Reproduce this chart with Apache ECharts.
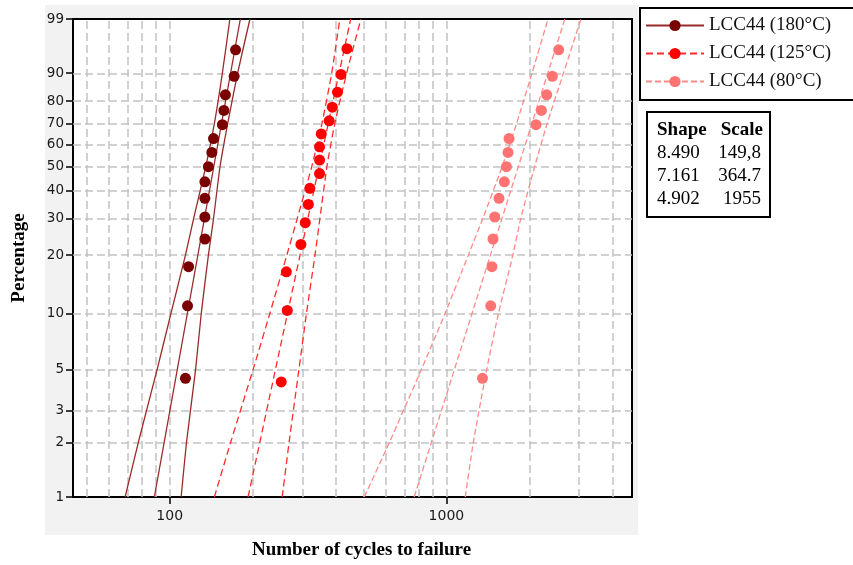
<!DOCTYPE html>
<html lang="en">
<head>
<meta charset="UTF-8">
<title>LCC44 Weibull plot</title>
<script src="https://cdn.jsdelivr.net/npm/echarts@6/dist/echarts.min.js"></script>
<style>
  html, body { margin: 0; padding: 0; background: #fff; }
  #chart { width: 853px; height: 565px; }
</style>
</head>
<body>
<div id="chart"></div>
<script>
// percentage ticks of the Weibull probability axis
var pctTicks = [1, 2, 3, 5, 10, 20, 30, 40, 50, 60, 70, 80, 90, 99];
// vertical grid lines and labels of the cycles axis
var cycleGrid = [50, 60, 70, 80, 90, 100, 200, 300, 400, 500, 600, 700, 800, 900, 1000, 2000, 3000, 4000];
var cycleLabels = [100, 1000];

// plotting positions (%) of the failures
var rank15 = [4.5, 11.0, 17.5, 24.0, 30.5, 37.0, 43.5, 50.0, 56.5, 63.0, 69.5, 76.0, 82.5, 89.0, 95.5];
var rank16 = [4.3, 10.4, 16.5, 22.6, 28.7, 34.8, 40.9, 47.0, 53.0, 59.1, 65.2, 71.3, 77.4, 83.5, 89.6, 95.7];

// cycles to failure
var cycles180 = [114, 116, 117, 134, 134, 134, 134, 138, 142, 144, 155, 157, 159, 171, 173];
var cycles125 = [253, 266, 264, 298, 309, 317, 321, 348, 348, 348, 353, 377, 387, 404, 416, 437];
var cycles80 = [1350, 1446, 1461, 1474, 1495, 1549, 1620, 1648, 1670, 1684, 2108, 2205, 2304, 2416, 2546];

// fitted lines (cycles at 1% and 99%)
var fitPct = [1, 99];
var fit180 = [88, 180];
var fit125 = [192, 451];
var fit80 = [765, 2680];

// confidence bounds
var boundPct = [1, 2, 5, 10, 20, 30, 50, 70, 90, 99];
var low180 = [69, 77, 90, 101, 114, 122, 135, 145, 155, 165];
var high180 = [110, 115, 124, 130, 138, 144, 152, 162, 176, 195];
var low125 = [145, 166, 200, 230, 265, 289, 326, 355, 385, 412];
var high125 = [255, 270, 293, 312, 335, 349, 370, 395, 436, 491];
var low80 = [505, 622, 811, 988, 1200, 1354, 1590, 1793, 2039, 2330];
var high80 = [1170, 1251, 1398, 1542, 1738, 1857, 2084, 2312, 2650, 3065];

var names = ['LCC44 (180°C)', 'LCC44 (125°C)', 'LCC44 (80°C)'];
var shapes = ['8.490', '7.161', '4.902'];
var scales = ['149,8', '364.7', '1955'];

// weibull probability scale
function wb(p) { return Math.log(-Math.log(1 - p / 100)); }
function zip(cs, ps) {
    return cs.map(function (c, i) { return [Math.log10(c), wb(ps[i])]; });
}

function group(name, color, lineColor, dash, pts, ranks, fit, low, high) {
    var ls = { color: lineColor, width: 1.3, type: dash };
    return [
        { name: name, type: 'line', data: zip(fit, fitPct), showSymbol: false, symbol: 'circle',
          itemStyle: { color: color }, lineStyle: ls, z: 3 },
        { name: name, type: 'line', data: zip(low, boundPct), showSymbol: false, smooth: 0.2,
          itemStyle: { color: color }, lineStyle: ls, z: 3 },
        { name: name, type: 'line', data: zip(high, boundPct), showSymbol: false, smooth: 0.2,
          itemStyle: { color: color }, lineStyle: ls, z: 3 },
        { name: name, type: 'scatter', data: zip(pts, ranks), symbolSize: 11,
          itemStyle: { color: color, opacity: 1 }, z: 4 }
    ];
}

var gridLines = cycleGrid.map(function (c) { return { xAxis: Math.log10(c) }; })
    .concat(pctTicks.slice(1, -1).map(function (p) { return { yAxis: wb(p) }; }));

var series = [{
    type: 'line', data: [], silent: true,
    markLine: {
        silent: true, symbol: ['none', 'none'], z: 1, animation: false,
        label: { show: false },
        lineStyle: { color: '#c2c2c2', width: 1.5, type: [8, 4] },
        emphasis: { disabled: true },
        data: gridLines
    }
}].concat(
    group(names[0], '#7a0000', '#9a2a2a', 'solid', cycles180, rank15, fit180, low180, high180),
    group(names[1], '#ff0000', '#ff2a2a', [7, 4], cycles125, rank16, fit125, low125, high125),
    group(names[2], '#ff7373', '#ff8a8a', [6, 3], cycles80, rank15, fit80, low80, high80)
);

var tableText = [
    { type: 'rect', shape: { x: 647, y: 112, width: 123, height: 105 },
      style: { fill: '#fff', stroke: '#000', lineWidth: 2 } },
    { type: 'text', x: 657, y: 130, style: { text: 'Shape', font: 'bold 19px "Liberation Serif"', fill: '#000',
      textAlign: 'left', textVerticalAlign: 'middle', align: 'left', verticalAlign: 'middle' } },
    { type: 'text', x: 763, y: 130, style: { text: 'Scale', font: 'bold 19px "Liberation Serif"', fill: '#000',
      textAlign: 'right', textVerticalAlign: 'middle', align: 'right', verticalAlign: 'middle' } }
];
shapes.forEach(function (s, i) {
    tableText.push({ type: 'text', x: 657, y: 153 + i * 23, style: { text: s, font: '19px "Liberation Serif"',
        fill: '#000', textAlign: 'left', textVerticalAlign: 'middle', align: 'left', verticalAlign: 'middle' } });
    tableText.push({ type: 'text', x: 761, y: 153 + i * 23, style: { text: scales[i], font: '19px "Liberation Serif"',
        fill: '#000', textAlign: 'right', textVerticalAlign: 'middle', align: 'right', verticalAlign: 'middle' } });
});

var chart = echarts.init(document.getElementById('chart'));
chart.setOption({
    animation: false,
    backgroundColor: '#fff',
    graphic: [{ type: 'rect', z: -100, shape: { x: 45, y: 5, width: 593, height: 530 },
                style: { fill: '#f2f2f2' }, silent: true }].concat(tableText),
    grid: { left: 73, top: 19, right: 221, bottom: 66, show: true, backgroundColor: '#fff',
            borderColor: '#000', borderWidth: 2 },
    legend: {
        data: names, orient: 'vertical', left: 640, top: 8,
        itemWidth: 58, itemHeight: 14, itemGap: 9, padding: [8, 23, 9, 5],
        borderColor: '#000', borderWidth: 2, backgroundColor: '#fff',
        lineStyle: { width: 2 },
        textStyle: { fontFamily: 'Liberation Serif', fontSize: 19, color: '#111' }
    },
    xAxis: {
        type: 'value', min: 1.6505, max: 3.6708,
        name: 'Number of cycles to failure', nameLocation: 'middle', nameGap: 44,
        nameTextStyle: { fontFamily: 'Liberation Serif', fontWeight: 'bold', fontSize: 19, color: '#000',
                         padding: [0, 0, 0, 18] },
        axisLine: { onZero: false, lineStyle: { color: '#000', width: 2 } },
        axisTick: { customValues: cycleLabels.map(Math.log10), length: 7, lineStyle: { color: '#000', width: 1.5 } },
        axisLabel: { customValues: cycleLabels.map(Math.log10), margin: 12,
                     fontFamily: 'DejaVu Sans', fontSize: 14, color: '#1a1a1a',
                     formatter: function (v) { return String(Math.round(Math.pow(10, v))); } },
        splitLine: { show: false }
    },
    yAxis: {
        type: 'value', min: wb(1), max: wb(99),
        name: 'Percentage', nameLocation: 'middle', nameRotate: 90, nameGap: 44,
        nameTextStyle: { fontFamily: 'Liberation Serif', fontWeight: 'bold', fontSize: 19, color: '#000' },
        axisLine: { show: true, onZero: false, lineStyle: { color: '#000', width: 2 } },
        axisTick: { show: true, customValues: pctTicks.map(wb), length: 7, lineStyle: { color: '#000', width: 1.5 } },
        axisLabel: { customValues: pctTicks.map(wb), margin: 9,
                     fontFamily: 'DejaVu Sans', fontSize: 13.5, color: '#1a1a1a',
                     formatter: function (v) { return String(Math.round(100 * (1 - Math.exp(-Math.exp(v))))); } },
        splitLine: { show: false }
    },
    series: series
});
</script>
</body>
</html>
